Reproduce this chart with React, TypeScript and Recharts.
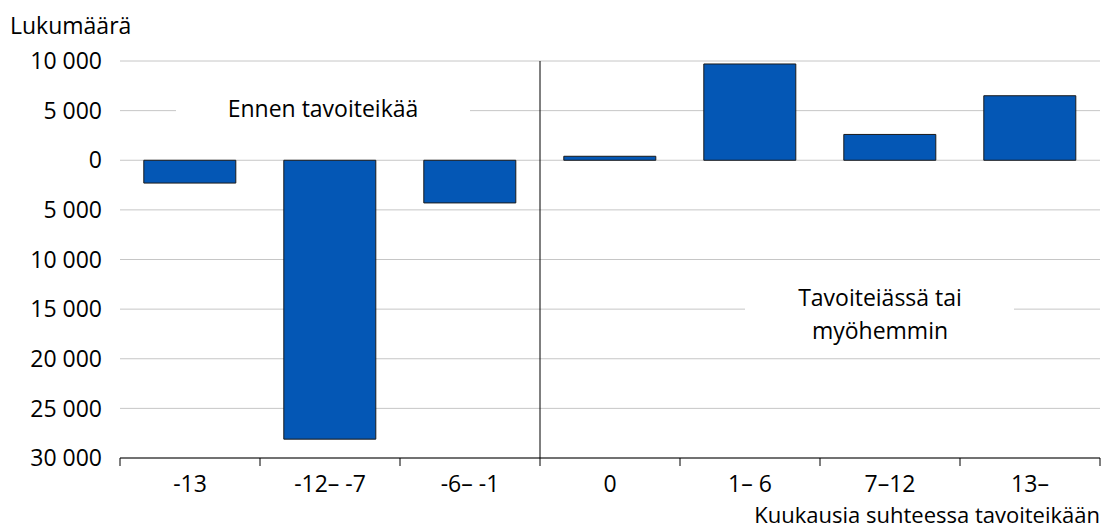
import { BarChart, Bar, XAxis, YAxis, CartesianGrid, ReferenceLine } from "recharts";

const categories = ["-13", "-12– -7", "-6– -1", "0", "1– 6", "7–12", "13–"];
const counts = [-2300, -28100, -4300, 400, 9700, 2600, 6500];
const yTicks = [10000, 5000, 0, -5000, -10000, -15000, -20000, -25000, -30000];

const data = categories.map((name, i) => ({ name, value: counts[i] }));

const W = 1104;
const H = 529;
const LEFT = 120;
const RIGHT = 4;
const plotW = W - LEFT - RIGHT;
const band = plotW / categories.length;
const FONT = "'Open Sans', 'Noto Sans', sans-serif";
const FS = 23;

const fmt = (v: number) =>
  Math.abs(v)
    .toString()
    .replace(/\B(?=(\d{3})+(?!\d))/g, " ");

function XTick(props: any) {
  const { x, y, payload, index } = props;
  const last = index === categories.length - 1;
  return (
    <g>
      <line x1={x - band / 2} x2={x - band / 2} y1={y} y2={y + 8} stroke="#000" />
      {last && <line x1={x + band / 2} x2={x + band / 2} y1={y} y2={y + 8} stroke="#000" />}
      <text x={x} y={y + 34} textAnchor="middle" fontSize={FS} fill="#000" fontFamily={FONT}>
        {payload.value}
      </text>
    </g>
  );
}

export default function App() {
  return (
    <div style={{ position: "absolute", left: 0, top: 0, background: "#fff" }}>
      <BarChart
        width={W}
        height={H}
        data={data}
        margin={{ top: 61, right: RIGHT, left: 0, bottom: 0 }}
        barCategoryGap="17%"
      >
        <CartesianGrid vertical={false} stroke="#c6c6c6" />
        <XAxis
          dataKey="name"
          axisLine={{ stroke: "#000" }}
          tickLine={false}
          tickSize={0}
          tickMargin={0}
          tick={<XTick />}
          interval={0}
          height={71}
        />
        <YAxis
          width={LEFT}
          domain={[-30000, 10000]}
          ticks={yTicks}
          axisLine={false}
          tickLine={false}
          tickSize={0}
          tickMargin={18}
          tickFormatter={fmt}
          tick={{ fontSize: FS, fill: "#000", fontFamily: FONT }}
        />
        <ReferenceLine x="0" position="start" stroke="#000" />
        <g>
          <rect x={176} y={96} width={294} height={26} fill="#fff" />
          <text x={323} y={117} textAnchor="middle" fontSize={FS} fill="#000" fontFamily={FONT}>
            Ennen tavoiteikää
          </text>
          <rect x={745} y={286} width={269} height={58} fill="#fff" />
          <text x={880} y={306} textAnchor="middle" fontSize={FS} fill="#000" fontFamily={FONT}>
            Tavoiteiässä tai
          </text>
          <text x={880} y={339} textAnchor="middle" fontSize={FS} fill="#000" fontFamily={FONT}>
            myöhemmin
          </text>
          <text x={10} y={34} fontSize={FS} fill="#000" fontFamily={FONT}>
            Lukumäärä
          </text>
          <text x={1100} y={523} textAnchor="end" fontSize={22} fill="#000" fontFamily={FONT}>
            Kuukausia suhteessa tavoiteikään
          </text>
        </g>
        <Bar dataKey="value" fill="#0457B5" stroke="#1a1a1a" strokeWidth={1} isAnimationActive={false} />
      </BarChart>
    </div>
  );
}
